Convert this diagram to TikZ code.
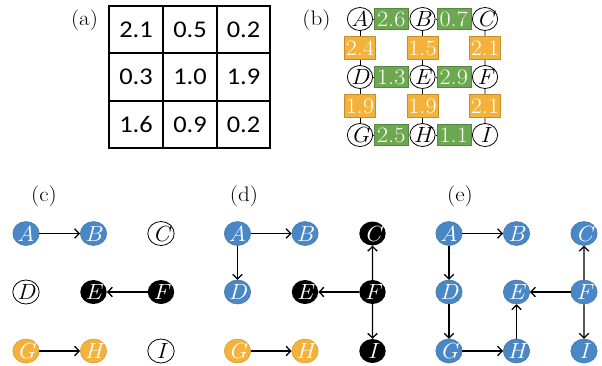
\documentclass[tikz,border=0pt]{standalone}
\usepackage{fontspec}
\newfontfamily\tabfont{Carlito}
\usetikzlibrary{arrows.meta}
\definecolor{vblue}{HTML}{4A87C6}
\definecolor{vorange}{HTML}{F4B23A}
\definecolor{wgreen}{HTML}{6BA84F}
\definecolor{worange}{HTML}{F4B23A}
\tikzset{
  wide/.style={xscale=1.1},
  lbl/.style={wide, inner sep=0pt, font=\fontsize{21}{24}\selectfont},
  cell/.style={wide, inner sep=0pt, font=\tabfont\fontsize{24}{27}\selectfont},
  vtx/.style={wide, circle, minimum size=24pt, inner sep=0pt, font=\fontsize{22}{24}\selectfont\itshape},
  smallvtx/.style={vtx, minimum size=23pt, draw=black, line width=0.8pt, fill=white},
  whitev/.style={vtx, draw=black, line width=0.8pt, fill=white},
  bluev/.style={vtx, draw=vblue!85!black, line width=0.5pt, fill=vblue, text=white},
  orangev/.style={vtx, draw=vorange!85!black, line width=0.5pt, fill=vorange, text=white},
  blackv/.style={vtx, fill=black, text=white},
  gbox/.style={wide, draw=wgreen!80!black, line width=0.4pt, fill=wgreen, text=white,
    minimum width=31pt, minimum height=21pt, inner sep=0pt, font=\fontsize{22}{24}\selectfont},
  obox/.style={wide, draw=worange!80!black, line width=0.4pt, fill=worange, text=white,
    minimum width=28.5pt, minimum height=23pt, inner sep=0pt, font=\fontsize{22}{24}\selectfont},
  link/.style={line width=0.8pt},
  arr/.style={line width=1.3pt, -{Straight Barb[length=4.5pt,width=9.5pt]}},
}
\begin{document}
\begin{tikzpicture}[x=1pt, y=-1pt]
\useasboundingbox (0,0) rectangle (602,365);

% ---------- (a) weight table ----------
\node[lbl] (la) at (84.5,20.5) {(a)};
\draw[line width=1.2pt] (109,6) rectangle (270,148);
\draw[line width=1.2pt] (163,6) -- (163,148) (217,6) -- (217,148)
  (109,53) -- (270,53) (109,101) -- (270,101);
\node[cell] (t11) at (136,29.5) {2.1};
\node[cell] (t12) at (190,29.5) {0.5};
\node[cell] (t13) at (243.5,29.5) {0.2};
\node[cell] (t21) at (136,77) {0.3};
\node[cell] (t22) at (190,77) {1.0};
\node[cell] (t23) at (243.5,77) {1.9};
\node[cell] (t31) at (136,124.5) {1.6};
\node[cell] (t32) at (190,124.5) {0.9};
\node[cell] (t33) at (243.5,124.5) {0.2};

% ---------- (b) grid graph with edge weights ----------
\node[lbl] (lb) at (316.5,20.5) {(b)};
\foreach \n/\x/\y in {A/360/19, B/422.5/19, C/485/19,
                      D/360/77, E/422.5/77, F/485/77,
                      G/360/135, H/422.5/135, I/485/135}
  \node[smallvtx] (b\n) at (\x,\y) {\n};
\foreach \u/\v in {A/B, B/C, D/E, E/F, G/H, H/I, A/D, B/E, C/F, D/G, E/H, F/I}
  \draw[link] (b\u) -- (b\v);
\node[gbox] (wAB) at (391.25,19) {2.6};
\node[gbox] (wBC) at (453.75,19) {0.7};
\node[gbox] (wDE) at (391.25,77) {1.3};
\node[gbox] (wEF) at (453.75,77) {2.9};
\node[gbox] (wGH) at (391.25,135) {2.5};
\node[gbox] (wHI) at (453.75,135) {1.1};
\node[obox] (wAD) at (360,48) {2.4};
\node[obox] (wBE) at (422.5,48) {1.5};
\node[obox] (wCF) at (485,48) {2.1};
\node[obox] (wDG) at (360,106) {1.9};
\node[obox] (wEH) at (422.5,106) {1.9};
\node[obox] (wFI) at (485,106) {2.1};

% ---------- (c) ----------
\node[lbl] (lc) at (44,196) {(c)};
\node[bluev]   (cA) at (26,233.5) {A};
\node[bluev]   (cB) at (93.5,233.5) {B};
\node[whitev]  (cC) at (161,233.5) {C};
\node[whitev]  (cD) at (26,292) {D};
\node[blackv]  (cE) at (93.5,292) {E};
\node[blackv]  (cF) at (161,292) {F};
\node[orangev] (cG) at (26,351) {G};
\node[orangev] (cH) at (93.5,351) {H};
\node[whitev]  (cI) at (161,351) {I};
\draw[arr] (cA) -- (cB);
\draw[arr] (cF) -- (cE);
\draw[arr] (cG) -- (cH);

% ---------- (d) ----------
\node[lbl] (ld) at (244,196) {(d)};
\node[bluev]   (dA) at (237.5,233.5) {A};
\node[bluev]   (dB) at (305,233.5) {B};
\node[blackv]  (dC) at (372.5,233.5) {C};
\node[bluev]   (dD) at (237.5,292) {D};
\node[blackv]  (dE) at (305,292) {E};
\node[blackv]  (dF) at (372.5,292) {F};
\node[orangev] (dG) at (237.5,351) {G};
\node[orangev] (dH) at (305,351) {H};
\node[blackv]  (dI) at (372.5,351) {I};
\draw[arr] (dA) -- (dB);
\draw[arr] (dA) -- (dD);
\draw[arr] (dF) -- (dE);
\draw[arr] (dF) -- (dC);
\draw[arr] (dF) -- (dI);
\draw[arr] (dG) -- (dH);

% ---------- (e) ----------
\node[lbl] (le) at (460,196) {(e)};
\node[bluev] (eA) at (449,233.5) {A};
\node[bluev] (eB) at (516.5,233.5) {B};
\node[bluev] (eC) at (584,233.5) {C};
\node[bluev] (eD) at (449,292) {D};
\node[bluev] (eE) at (516.5,292) {E};
\node[bluev] (eF) at (584,292) {F};
\node[bluev] (eG) at (449,351) {G};
\node[bluev] (eH) at (516.5,351) {H};
\node[bluev] (eI) at (584,351) {I};
\draw[arr] (eA) -- (eB);
\draw[arr] (eA) -- (eD);
\draw[arr] (eD) -- (eG);
\draw[arr] (eG) -- (eH);
\draw[arr] (eH) -- (eE);
\draw[arr] (eF) -- (eE);
\draw[arr] (eF) -- (eC);
\draw[arr] (eF) -- (eI);
\end{tikzpicture}
\end{document}
